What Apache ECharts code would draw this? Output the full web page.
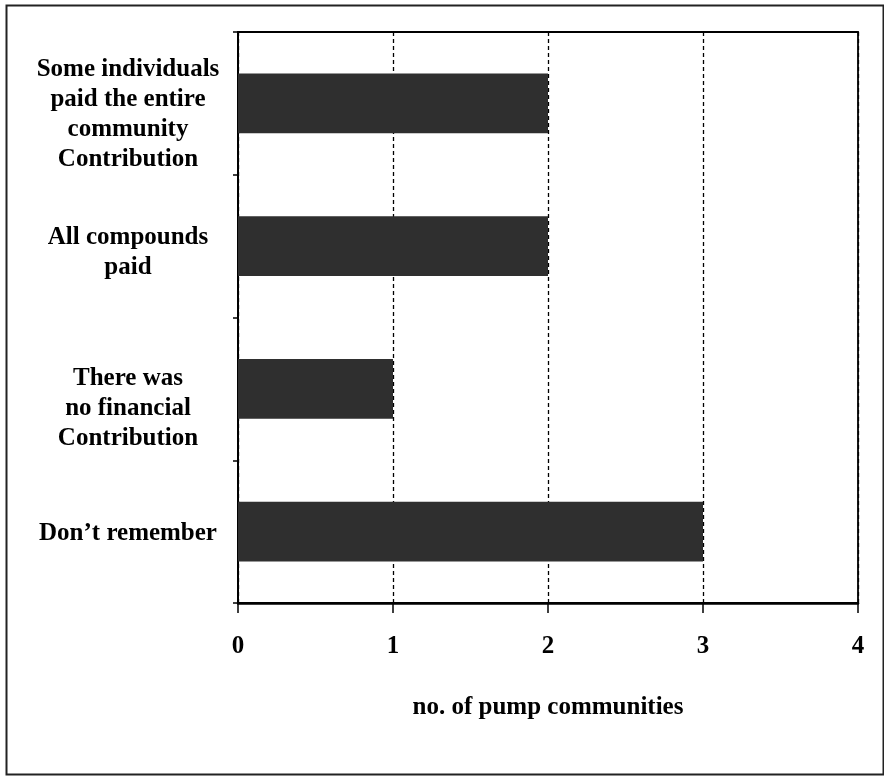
<!DOCTYPE html>
<html><head><meta charset="utf-8">
<script src="https://cdn.jsdelivr.net/npm/echarts@6/dist/echarts.min.js"></script>
<style>html,body{margin:0;padding:0;background:#fff}#c{width:884px;height:777px}</style>
</head><body><div id="c"></div>
<script>
const categories = [
  "Don\u2019t remember",
  "There was\nno financial\nContribution",
  "All compounds\npaid",
  "Some individuals\npaid the entire\ncommunity\nContribution"
];
const values = [3, 1, 2, 2];
const xTicks = [0, 1, 2, 3, 4];
const xName = "no. of pump communities";

// vertical nudges of the category labels (layout only)
const labelShift = [2, 20, 6, 11];

const font = '"Liberation Serif","Times New Roman",serif';
const rich = {t: {fontFamily: font, fontWeight: 'bold', fontSize: 25, color: '#000', lineHeight: 30, align: 'center'}};
labelShift.forEach((s, i) => { rich['sp' + i] = {fontSize: 1, lineHeight: s * 2, align: 'center'}; });

const chart = echarts.init(document.getElementById('c'));
chart.setOption({
  animation: false,
  backgroundColor: '#fff',
  grid: {left: 238, right: 26, top: 32, bottom: 174, show: true, borderColor: '#000', borderWidth: 1.8, backgroundColor: 'transparent', containLabel: false, outerBoundsMode: 'none'},
  xAxis: {
    type: 'value', min: xTicks[0], max: xTicks[xTicks.length-1], interval: 1,
    name: xName, nameLocation: 'middle', nameGap: 92,
    nameTextStyle: {fontFamily: font, fontWeight: 'bold', fontSize: 25, color: '#000', verticalAlign: 'top'},
    axisLine: {show: true, lineStyle: {color: '#000', width: 2.5}},
    axisTick: {show: true, inside: false, length: 10, lineStyle: {color: '#000', width: 1.5}},
    axisLabel: {fontFamily: font, fontWeight: 'bold', fontSize: 25, color: '#000', margin: 31},
    splitLine: {show: true, lineStyle: {color: '#000', type: [4, 3], width: 1.3}}
  },
  yAxis: {
    type: 'category',
    data: categories,
    axisLine: {show: true, lineStyle: {color: '#000', width: 2}},
    axisTick: {show: true, length: 5, lineStyle: {color: '#000', width: 1.5}},
    axisLabel: {
      fontFamily: font, fontWeight: 'bold', fontSize: 25, color: '#000', align: 'center', margin: 110, lineHeight: 30,
      formatter: (v, i) => '{sp' + i + '| }\n' + v.split('\n').map(l => '{t|' + l + '}').join('\n'),
      rich: rich
    },
    splitLine: {show: false}
  },
  series: [{
    type: 'bar', data: values, barWidth: '42%',
    itemStyle: {color: '#2f2f2f'}
  }],
  graphic: [{
    type: 'rect', shape: {x: 6.5, y: 5.5, width: 877, height: 769},
    style: {fill: 'none', stroke: '#222', lineWidth: 2}, z: -1, silent: true
  }]
});
</script></body></html>
